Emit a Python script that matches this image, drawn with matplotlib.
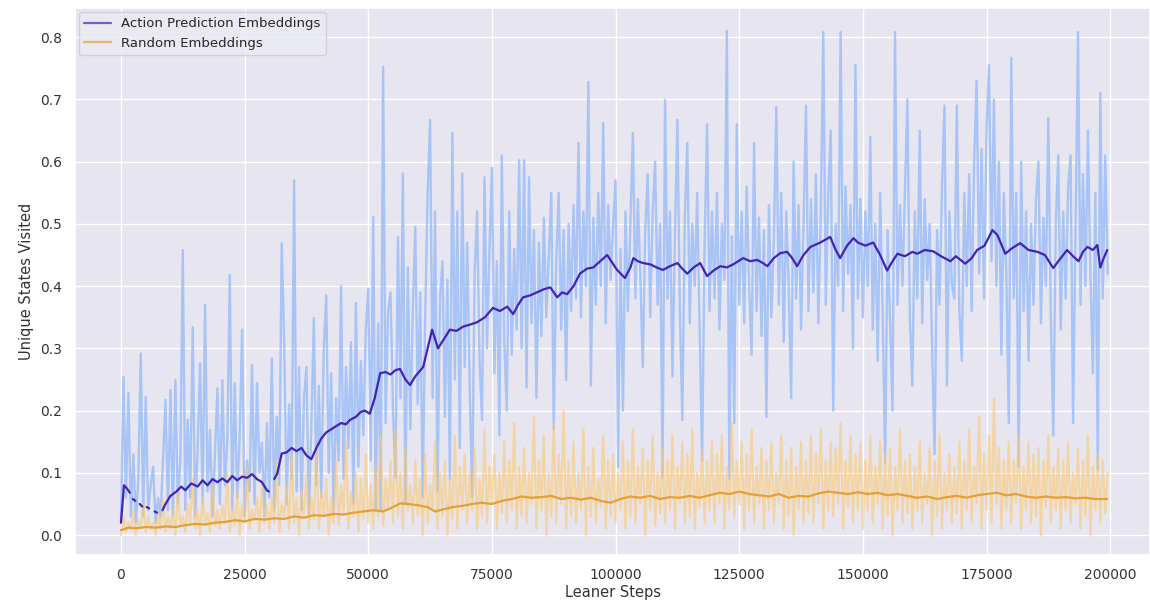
import matplotlib
matplotlib.use("Agg")
import matplotlib.pyplot as plt
import seaborn as sns
import numpy as np

# raw per-step values, logged every 500 learner steps (0 .. 199500)
raw_steps = np.arange(0, 200000, 500)

action_raw = [
    0.02, 0.254, 0.06, 0.228, 0.03, 0.13, 0.02, 0.09, 0.292, 0.03, 0.222, 0.04, 0.08, 0.11, 0.02, 0.06, 0.03, 0.12, 0.217, 0.04,
    0.233, 0.03, 0.249, 0.05, 0.12, 0.458, 0.04, 0.185, 0.06, 0.334, 0.03, 0.14, 0.276, 0.05, 0.37, 0.07, 0.169, 0.03, 0.13, 0.236,
    0.05, 0.249, 0.08, 0.15, 0.418, 0.04, 0.244, 0.06, 0.16, 0.33, 0.03, 0.12, 0.07, 0.273, 0.05, 0.244, 0.10, 0.148, 0.03, 0.18,
    0.06, 0.284, 0.04, 0.19, 0.08, 0.469, 0.308, 0.05, 0.21, 0.09, 0.57, 0.07, 0.27, 0.04, 0.22, 0.27, 0.03, 0.18, 0.349, 0.08,
    0.24, 0.06, 0.30, 0.385, 0.10, 0.26, 0.035, 0.22, 0.12, 0.40, 0.09, 0.27, 0.14, 0.31, 0.05, 0.373, 0.11, 0.28, 0.16, 0.33,
    0.396, 0.12, 0.511, 0.04, 0.34, 0.04, 0.752, 0.18, 0.36, 0.39, 0.20, 0.093, 0.479, 0.22, 0.581, 0.05, 0.43, 0.17, 0.36, 0.495,
    0.21, 0.39, 0.061, 0.35, 0.549, 0.667, 0.22, 0.52, 0.07, 0.38, 0.44, 0.19, 0.41, 0.09, 0.646, 0.25, 0.52, 0.14, 0.581, 0.27,
    0.47, 0.24, 0.06, 0.42, 0.52, 0.28, 0.185, 0.575, 0.30, 0.46, 0.59, 0.26, 0.44, 0.16, 0.61, 0.31, 0.20, 0.52, 0.29, 0.46,
    0.33, 0.602, 0.30, 0.602, 0.237, 0.575, 0.34, 0.49, 0.22, 0.47, 0.32, 0.51, 0.35, 0.45, 0.55, 0.169, 0.44, 0.55, 0.33, 0.49,
    0.249, 0.50, 0.36, 0.53, 0.38, 0.63, 0.35, 0.52, 0.40, 0.728, 0.24, 0.51, 0.37, 0.55, 0.40, 0.662, 0.34, 0.53, 0.41, 0.50,
    0.57, 0.109, 0.46, 0.20, 0.52, 0.36, 0.50, 0.646, 0.38, 0.54, 0.42, 0.27, 0.49, 0.58, 0.35, 0.52, 0.60, 0.37, 0.50, 0.093,
    0.699, 0.38, 0.52, 0.255, 0.48, 0.667, 0.36, 0.185, 0.51, 0.63, 0.34, 0.50, 0.40, 0.55, 0.33, 0.12, 0.47, 0.66, 0.36, 0.52,
    0.38, 0.55, 0.33, 0.50, 0.41, 0.81, 0.09, 0.48, 0.18, 0.66, 0.37, 0.52, 0.34, 0.56, 0.40, 0.29, 0.63, 0.36, 0.51, 0.32,
    0.49, 0.19, 0.53, 0.35, 0.47, 0.688, 0.37, 0.55, 0.31, 0.52, 0.40, 0.22, 0.60, 0.38, 0.53, 0.33, 0.50, 0.69, 0.36, 0.54,
    0.39, 0.58, 0.34, 0.52, 0.808, 0.37, 0.55, 0.65, 0.20, 0.50, 0.40, 0.808, 0.36, 0.56, 0.42, 0.53, 0.30, 0.755, 0.38, 0.54,
    0.35, 0.52, 0.40, 0.64, 0.33, 0.50, 0.28, 0.55, 0.36, 0.116, 0.49, 0.34, 0.20, 0.808, 0.37, 0.53, 0.40, 0.55, 0.70, 0.35,
    0.24, 0.52, 0.38, 0.65, 0.34, 0.54, 0.41, 0.50, 0.30, 0.13, 0.49, 0.37, 0.56, 0.69, 0.24, 0.52, 0.40, 0.38, 0.69, 0.36,
    0.28, 0.55, 0.40, 0.58, 0.36, 0.60, 0.73, 0.42, 0.62, 0.38, 0.65, 0.755, 0.44, 0.70, 0.40, 0.60, 0.29, 0.55, 0.42, 0.18,
    0.767, 0.38, 0.55, 0.11, 0.60, 0.36, 0.52, 0.28, 0.50, 0.37, 0.54, 0.60, 0.34, 0.51, 0.40, 0.67, 0.35, 0.16, 0.50, 0.61,
    0.33, 0.52, 0.38, 0.56, 0.61, 0.18, 0.50, 0.808, 0.37, 0.58, 0.40, 0.65, 0.42, 0.26, 0.55, 0.106, 0.71, 0.38, 0.61, 0.42,
]

random_raw = [
    0.0, 0.03, 0.005, 0.02, 0.01, 0.04, 0.0, 0.025, 0.015, 0.05, 0.005, 0.03, 0.01, 0.02, 0.0, 0.035, 0.01, 0.06, 0.005, 0.03,
    0.01, 0.04, 0.0, 0.07, 0.015, 0.03, 0.005, 0.05, 0.02, 0.09, 0.01, 0.04, 0.0, 0.06, 0.02, 0.035, 0.005, 0.08, 0.015, 0.04,
    0.01, 0.05, 0.02, 0.10, 0.005, 0.045, 0.015, 0.07, 0.0, 0.05, 0.02, 0.11, 0.01, 0.04, 0.025, 0.06, 0.005, 0.09, 0.02, 0.05,
    0.01, 0.06, 0.02, 0.12, 0.005, 0.05, 0.03, 0.08, 0.01, 0.13, 0.02, 0.06, 0.0, 0.07, 0.03, 0.10, 0.01, 0.06, 0.025, 0.14,
    0.01, 0.07, 0.03, 0.09, 0.0, 0.06, 0.02, 0.12, 0.015, 0.08, 0.035, 0.15, 0.01, 0.07, 0.03, 0.10, 0.005, 0.09, 0.025, 0.13,
    0.02, 0.08, 0.01, 0.11, 0.03, 0.16, 0.015, 0.09, 0.04, 0.12, 0.02, 0.17, 0.03, 0.10, 0.01, 0.14, 0.04, 0.08, 0.02, 0.12,
    0.03, 0.09, 0.0, 0.13, 0.02, 0.08, 0.04, 0.15, 0.01, 0.10, 0.03, 0.12, 0.0, 0.09, 0.025, 0.16, 0.01, 0.11, 0.04, 0.13,
    0.02, 0.10, 0.04, 0.14, 0.01, 0.09, 0.03, 0.17, 0.02, 0.11, 0.05, 0.13, 0.01, 0.10, 0.035, 0.15, 0.02, 0.12, 0.04, 0.18,
    0.01, 0.11, 0.03, 0.14, 0.02, 0.10, 0.05, 0.19, 0.01, 0.12, 0.04, 0.16, 0.0, 0.10, 0.03, 0.18, 0.02, 0.13, 0.05, 0.20,
    0.01, 0.12, 0.03, 0.15, 0.02, 0.10, 0.04, 0.17, 0.0, 0.11, 0.03, 0.14, 0.02, 0.09, 0.045, 0.16, 0.01, 0.12, 0.03, 0.13,
    0.02, 0.10, 0.04, 0.15, 0.01, 0.12, 0.03, 0.17, 0.02, 0.11, 0.05, 0.14, 0.0, 0.12, 0.04, 0.16, 0.015, 0.10, 0.035, 0.14,
    0.02, 0.12, 0.04, 0.16, 0.01, 0.11, 0.05, 0.15, 0.02, 0.13, 0.03, 0.17, 0.01, 0.10, 0.045, 0.14, 0.02, 0.12, 0.04, 0.15,
    0.02, 0.13, 0.05, 0.16, 0.01, 0.11, 0.04, 0.18, 0.03, 0.12, 0.05, 0.15, 0.01, 0.13, 0.04, 0.17, 0.02, 0.11, 0.05, 0.14,
    0.01, 0.12, 0.04, 0.15, 0.02, 0.10, 0.05, 0.16, 0.01, 0.12, 0.03, 0.14, 0.0, 0.11, 0.04, 0.15, 0.02, 0.12, 0.035, 0.16,
    0.02, 0.13, 0.05, 0.17, 0.01, 0.12, 0.04, 0.15, 0.03, 0.14, 0.05, 0.18, 0.01, 0.12, 0.045, 0.16, 0.02, 0.13, 0.04, 0.15,
    0.01, 0.12, 0.04, 0.16, 0.02, 0.11, 0.05, 0.15, 0.01, 0.13, 0.03, 0.14, 0.0, 0.11, 0.04, 0.17, 0.02, 0.12, 0.035, 0.13,
    0.01, 0.11, 0.04, 0.15, 0.02, 0.10, 0.05, 0.14, 0.0, 0.12, 0.03, 0.16, 0.01, 0.10, 0.04, 0.13, 0.02, 0.11, 0.035, 0.15,
    0.01, 0.12, 0.04, 0.17, 0.02, 0.11, 0.05, 0.19, 0.01, 0.13, 0.04, 0.16, 0.02, 0.22, 0.05, 0.14, 0.01, 0.12, 0.04, 0.15,
    0.02, 0.12, 0.05, 0.16, 0.01, 0.11, 0.04, 0.15, 0.02, 0.13, 0.03, 0.14, 0.0, 0.12, 0.045, 0.16, 0.02, 0.11, 0.04, 0.14,
    0.01, 0.12, 0.04, 0.15, 0.02, 0.10, 0.05, 0.14, 0.01, 0.12, 0.03, 0.16, 0.0, 0.11, 0.04, 0.13, 0.02, 0.12, 0.035, 0.10,
]

# smoothed curves (NaN where the rolling window had missing evaluations)
nan = np.nan
action_smooth_steps = [
    0, 600, 1200, 1800, 2200, 2400, 2900, 3200, 3800, 4300, 4700, 5200, 5700, 6200, 6800, 7300, 7800,
    8400, 9000, 10000, 11200, 12200, 13000, 14200, 15500, 16500, 17500, 18500, 19500, 20500, 21500,
    22500, 23500, 24500, 25500, 26500, 27500, 28500, 29500, 29900, 30500, 31000, 31600, 32500, 33500,
    34500, 35500, 36500, 37500, 38500, 39500, 40500, 41500, 42500, 43500, 44500, 45500, 46300, 47500,
    48500, 49300, 50300, 51300, 52400, 53500, 54500, 55500, 56400, 57500, 58450, 59500, 61100, 62000,
    62900, 64100, 65300, 66500, 67800, 69200, 70500, 72000, 73600, 75200, 76600, 78100, 79300, 80300,
    81300, 82700, 84100, 85500, 86800, 88200, 89200, 90200, 91500, 92800, 94200, 95500, 96900, 98300,
    99300, 100300, 101900, 103000, 103600, 104500, 105600, 107000, 108300, 109600, 111000, 112500,
    113500, 114500, 115800, 117100, 118500, 119800, 121200, 122500, 123800, 124800, 125800, 127200,
    128600, 129600, 130700, 132000, 133300, 134700, 135700, 136700, 138000, 139400, 141400, 143400,
    144400, 145400, 146800, 148100, 149000, 150500, 152100, 153500, 154900, 156000, 157000, 158500,
    160000, 161000, 162500, 164200, 165800, 167700, 168800, 170700, 172000, 173100, 174600, 176200,
    177200, 178100, 178800, 180000, 181800, 183500, 185300, 186800, 188500, 190000, 191300, 192500,
    193600, 194500, 195400, 196500, 197400, 198000, 198700, 199400,
]
action_smooth = [
    0.02, 0.08, 0.075, 0.068, nan, 0.058, 0.055, nan, 0.05, 0.046, nan, 0.045, 0.043, nan, 0.038, 0.036, nan,
    0.04, 0.05, 0.063, 0.07, 0.078, 0.072, 0.083, 0.078, 0.088, 0.08, 0.09, 0.085, 0.091, 0.085,
    0.095, 0.088, 0.094, 0.092, 0.098, 0.09, 0.085, 0.072, 0.07, nan, 0.09, 0.099, 0.131, 0.133,
    0.14, 0.135, 0.14, 0.128, 0.122, 0.14, 0.155, 0.165, 0.17, 0.175, 0.18, 0.178, 0.185, 0.19,
    0.198, 0.2, 0.195, 0.22, 0.26, 0.262, 0.258, 0.265, 0.267, 0.25, 0.241, 0.255, 0.27, 0.3,
    0.33, 0.3, 0.315, 0.33, 0.328, 0.335, 0.338, 0.342, 0.35, 0.365, 0.36, 0.367, 0.355, 0.37,
    0.382, 0.385, 0.39, 0.395, 0.398, 0.382, 0.39, 0.387, 0.40, 0.42, 0.428, 0.43, 0.44, 0.45,
    0.438, 0.426, 0.413, 0.43, 0.445, 0.44, 0.437, 0.435, 0.43, 0.426, 0.432, 0.437,
    0.428, 0.42, 0.43, 0.437, 0.416, 0.425, 0.432, 0.43, 0.435, 0.44, 0.445, 0.44,
    0.442, 0.438, 0.432, 0.445, 0.453, 0.455, 0.445, 0.432, 0.45, 0.463, 0.47, 0.479,
    0.46, 0.445, 0.465, 0.477, 0.47, 0.465, 0.47, 0.45, 0.425, 0.44, 0.452, 0.448,
    0.455, 0.452, 0.458, 0.456, 0.448, 0.44, 0.448, 0.436, 0.445, 0.458, 0.465, 0.49,
    0.482, 0.465, 0.452, 0.46, 0.469, 0.458, 0.455, 0.45, 0.429, 0.445, 0.458, 0.448,
    0.44, 0.455, 0.463, 0.458, 0.466, 0.43, 0.445, 0.458,
]

random_smooth_steps = [
    0, 1500, 3000, 5000, 7000, 9000, 11000, 13000, 15000, 17000, 19000, 21000, 23000, 25000, 27000,
    29000, 31000, 33000, 35000, 37000, 39000, 41000, 43000, 45000, 47000, 49000, 51000, 53000, 55000,
    56500, 58000, 60000, 62000, 63500, 65000, 67000, 69000, 71000, 73000, 75000, 77000, 79000, 81000,
    83000, 85000, 87000, 89000, 91000, 93000, 95000, 97000, 99000, 101000, 103000, 105000, 107000,
    109000, 111000, 113000, 115000, 117000, 119000, 121000, 123000, 125000, 127000, 129000, 131000,
    133000, 135000, 137000, 139000, 141000, 143000, 145000, 147000, 149000, 151000, 153000, 155000,
    157000, 159000, 161000, 163000, 165000, 167000, 169000, 171000, 173000, 175000, 177000, 179000,
    181000, 183000, 185000, 187000, 189000, 191000, 193000, 195000, 197000, 199400,
]
random_smooth = [
    0.008, 0.012, 0.011, 0.013, 0.012, 0.014, 0.013, 0.016, 0.018, 0.017, 0.02, 0.021, 0.024, 0.022, 0.026,
    0.025, 0.027, 0.026, 0.03, 0.028, 0.032, 0.031, 0.034, 0.033, 0.036, 0.038, 0.04, 0.038, 0.045,
    0.051, 0.05, 0.048, 0.045, 0.038, 0.041, 0.045, 0.047, 0.05, 0.052, 0.05, 0.055, 0.058, 0.062,
    0.06, 0.061, 0.063, 0.058, 0.06, 0.057, 0.06, 0.055, 0.052, 0.058, 0.062, 0.06, 0.063,
    0.058, 0.061, 0.06, 0.063, 0.06, 0.064, 0.068, 0.066, 0.07, 0.066, 0.064, 0.062,
    0.066, 0.06, 0.063, 0.062, 0.067, 0.07, 0.068, 0.066, 0.069, 0.066, 0.068, 0.064,
    0.066, 0.063, 0.06, 0.062, 0.058, 0.061, 0.063, 0.06, 0.064, 0.066, 0.068, 0.064,
    0.066, 0.062, 0.06, 0.062, 0.06, 0.061, 0.059, 0.06, 0.058, 0.058,
]

sns.set_theme(style="darkgrid")
plt.rcParams['font.family'] = ['DejaVu Sans']

fig = plt.figure(figsize=(11.5, 6.05), dpi=100)
ax = fig.add_axes([0.0652, 0.0826, 0.935, 0.904])
ax.set_facecolor('#e7e6f0')

# raw runs underneath, smoothed means on top
ax.plot(raw_steps, action_raw, color='#9dbdf6', alpha=0.85, linewidth=1.7)
ax.plot(raw_steps, random_raw, color='#fcc874', alpha=0.6, linewidth=1.6)
ax.plot(action_smooth_steps, action_smooth, color='#4024b4', linewidth=1.6,
        label='Action Prediction Embeddings')
ax.plot(random_smooth_steps, random_smooth, color='#e49f35', linewidth=1.6,
        label='Random Embeddings')

ax.set_xlim(-9300, 208100)
ax.set_ylim(-0.032, 0.8466)
ax.set_xticks(np.arange(0, 200001, 25000))
ax.set_yticks(np.arange(0, 0.81, 0.1))
ax.set_yticklabels([f'{v:.1f}' for v in np.arange(0, 0.81, 0.1)])
ax.tick_params(labelsize=10, colors='#333333')

ax.set_xlabel('Leaner Steps', fontsize=10.5, color='#333333', labelpad=2)
ax.set_ylabel('Unique States Visited', fontsize=10.5, color='#333333')

leg = ax.legend(loc='upper left', fontsize=9.5, borderaxespad=0.3, framealpha=0.8)
for line in leg.get_lines():
    line.set_alpha(0.7)

fig.savefig('out.png', dpi=100)
